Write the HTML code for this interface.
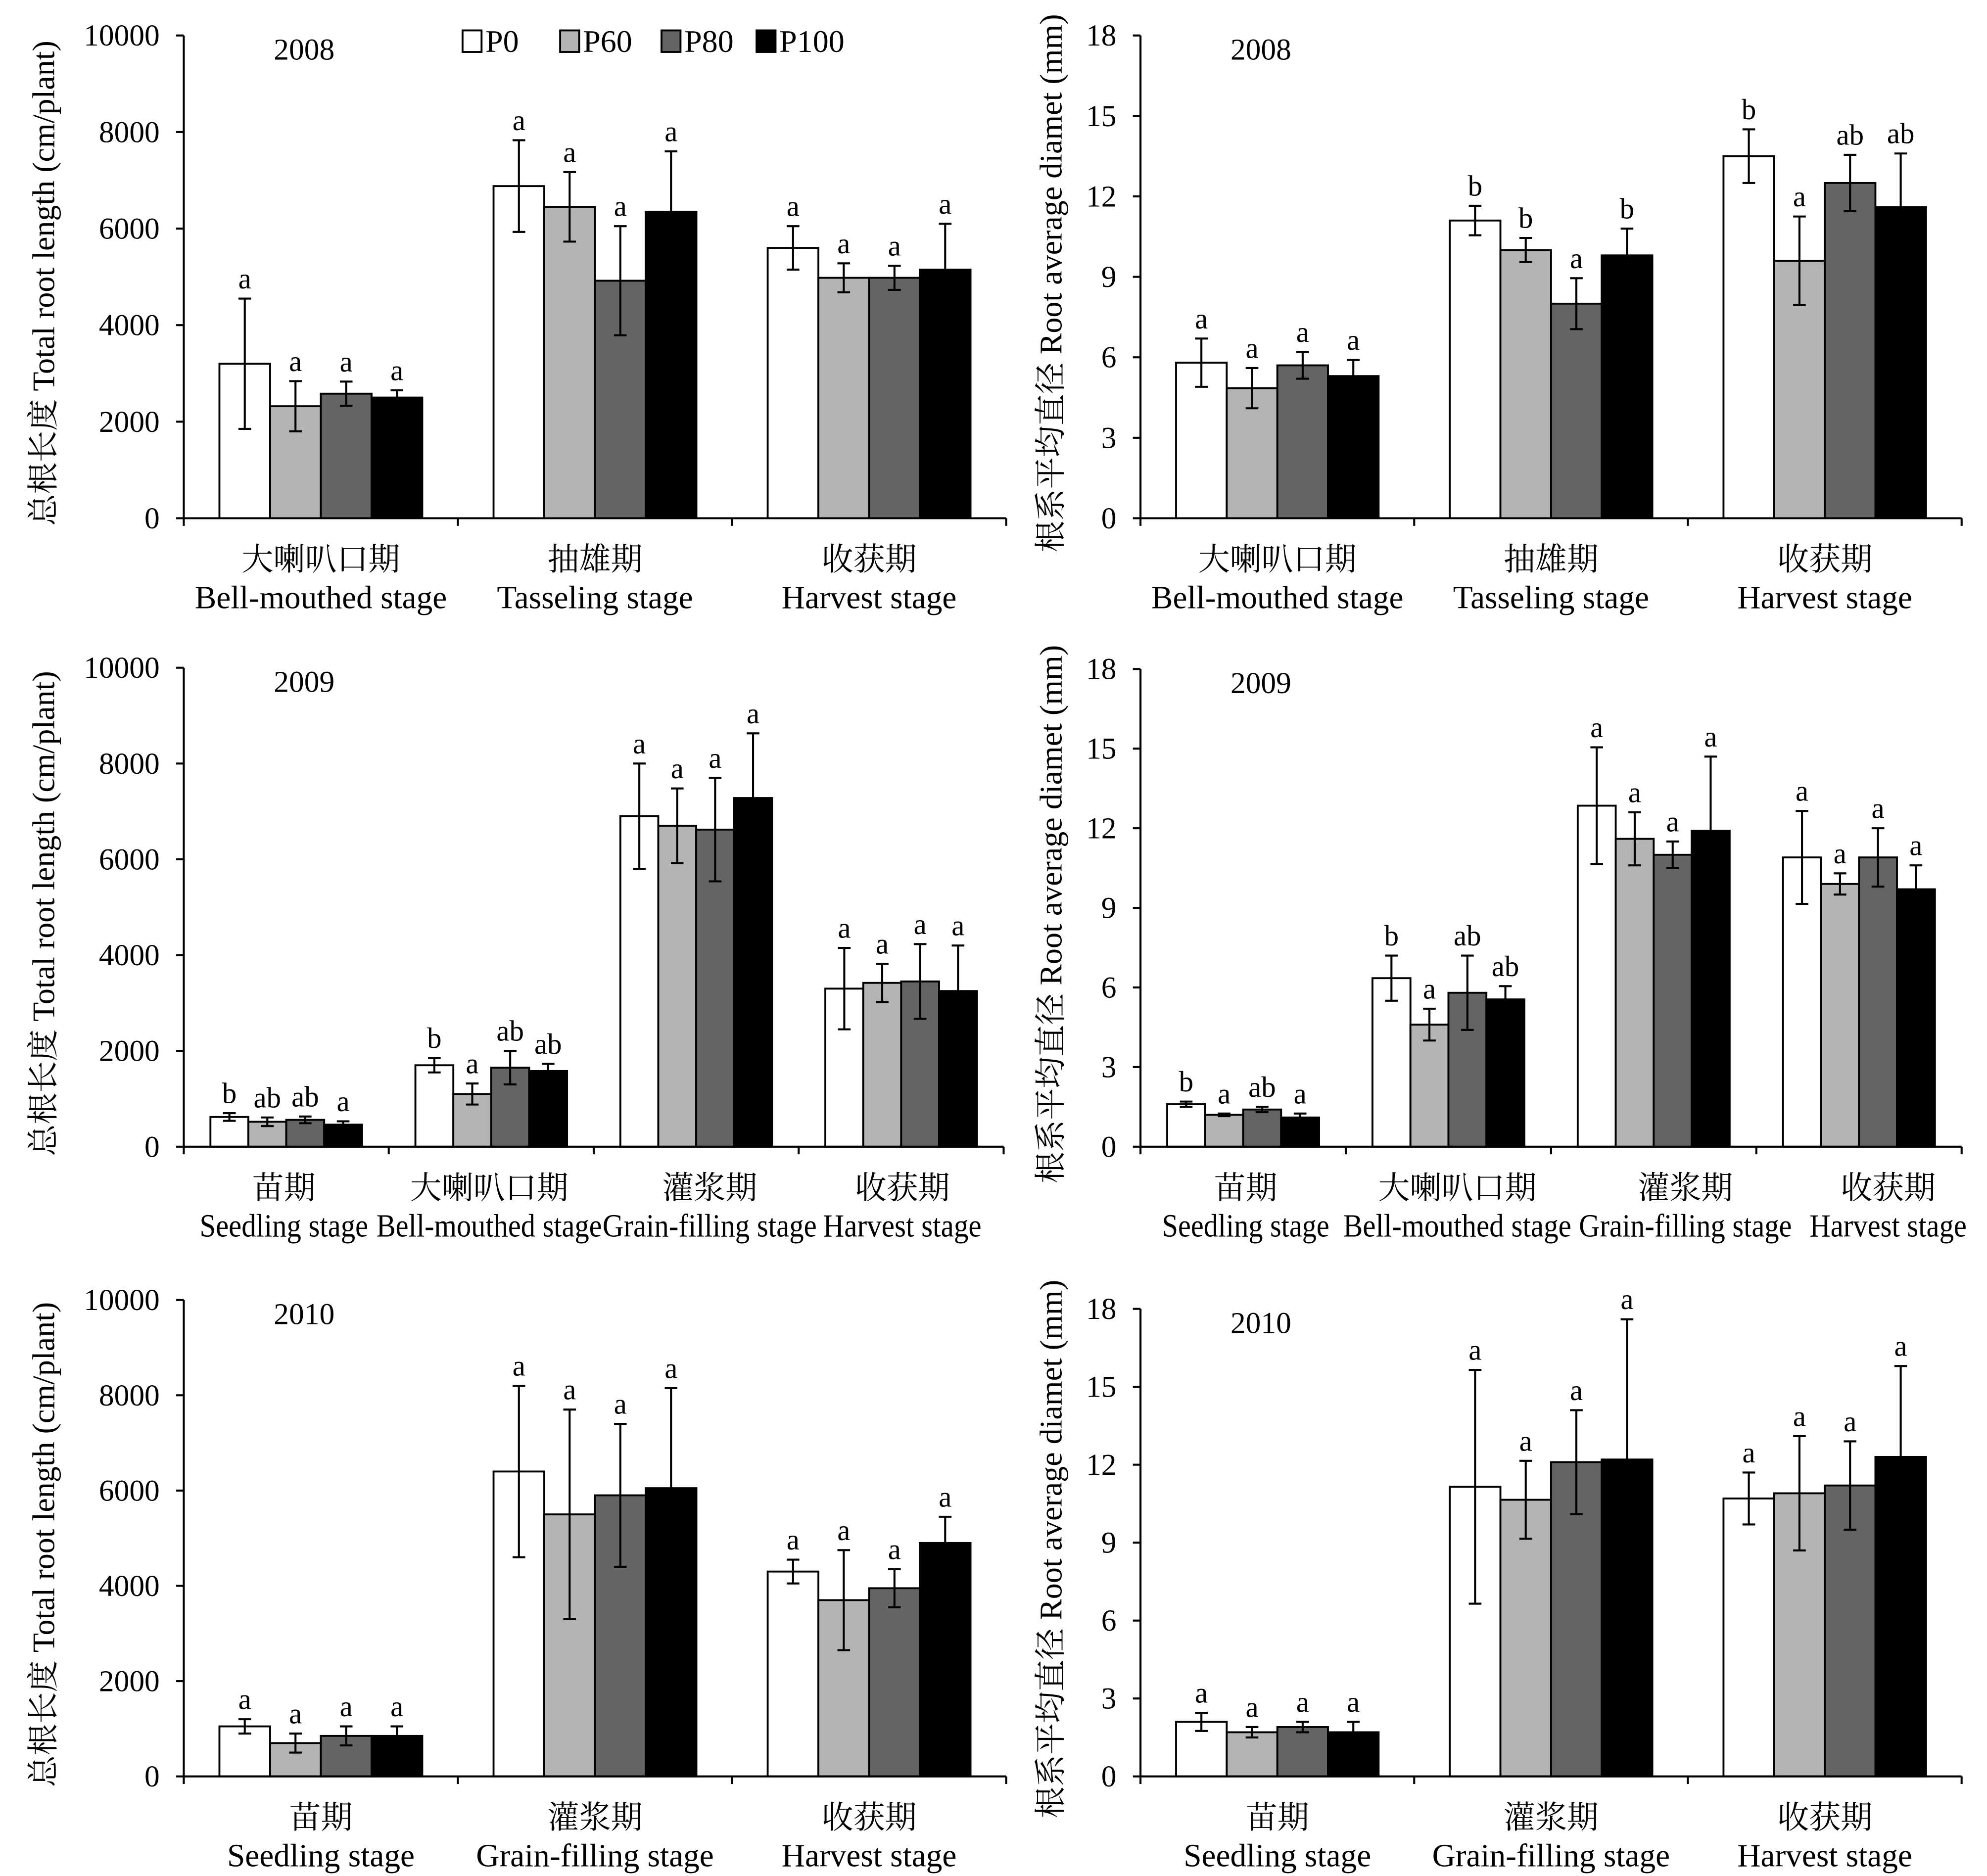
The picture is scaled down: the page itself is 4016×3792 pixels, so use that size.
<!DOCTYPE html>
<html><head><meta charset="utf-8">
<style>
html,body{margin:0;padding:0;background:#fff;}
svg{display:block;}
text{font-family:"Liberation Serif","Noto Serif CJK SC",serif;fill:#000;}
</style></head>
<body>
<svg id="chart" xmlns="http://www.w3.org/2000/svg" width="4016" height="3792" viewBox="0 0 1568 1480.6"></svg>
<script>
// ---- data ----
const legendNames = ["P0","P60","P80","P100"];
const trlTicks = [0,2000,4000,6000,8000,10000];
const diamTicks = [0,3,6,9,12,15,18];

const cats2008 = [["大喇叭口期","Bell-mouthed stage"],["抽雄期","Tasseling stage"],["收获期","Harvest stage"]];
const cats2009 = [["苗期","Seedling stage"],["大喇叭口期","Bell-mouthed stage"],["灌浆期","Grain-filling stage"],["收获期","Harvest stage"]];
const cats2010 = [["苗期","Seedling stage"],["灌浆期","Grain-filling stage"],["收获期","Harvest stage"]];

const trl2008Vals = [[3200,2320,2580,2500],[6880,6450,4920,6350],[5600,4980,4980,5150]];
const trl2008Errs = [[1350,520,250,150],[950,720,1130,1250],[450,300,250,950]];
const trl2008Lets = [["a","a","a","a"],["a","a","a","a"],["a","a","a","a"]];

const dia2008Vals = [[5.8,4.85,5.7,5.3],[11.1,10.0,8.0,9.8],[13.5,9.6,12.5,11.6]];
const dia2008Errs = [[0.9,0.75,0.5,0.6],[0.55,0.45,0.95,1.0],[1.0,1.65,1.05,2.0]];
const dia2008Lets = [["a","a","a","a"],["b","b","a","b"],["b","a","ab","ab"]];

const trl2009Vals = [[620,520,560,460],[1700,1100,1650,1580],[6900,6700,6620,7280],[3300,3420,3450,3250]];
const trl2009Errs = [[80,90,70,70],[150,220,350,150],[1100,780,1080,1350],[850,400,780,950]];
const trl2009Lets = [["b","ab","ab","a"],["b","a","ab","ab"],["a","a","a","a"],["a","a","a","a"]];

const dia2009Vals = [[1.6,1.2,1.4,1.1],[6.35,4.6,5.8,5.55],[12.85,11.6,11.0,11.9],[10.9,9.9,10.9,9.7]];
const dia2009Errs = [[0.1,0.05,0.1,0.15],[0.85,0.6,1.4,0.5],[2.2,1.0,0.5,2.8],[1.75,0.4,1.1,0.9]];
const dia2009Lets = [["b","a","ab","a"],["b","a","ab","ab"],["a","a","a","a"],["a","a","a","a"]];

const trl2010Vals = [[1050,700,850,850],[6400,5500,5900,6050],[4300,3700,3950,4900]];
const trl2010Errs = [[150,200,200,200],[1800,2200,1500,2100],[250,1050,400,550]];
const trl2010Lets = [["a","a","a","a"],["a","a","a","a"],["a","a","a","a"]];

const dia2010Vals = [[2.1,1.7,1.9,1.7],[11.15,10.65,12.1,12.2],[10.7,10.9,11.2,12.3]];
const dia2010Errs = [[0.35,0.2,0.2,0.4],[4.5,1.5,2.0,5.4],[1.0,2.2,1.7,3.5]];
const dia2010Lets = [["a","a","a","a"],["a","a","a","a"],["a","a","a","a"]];

const fills = ["#ffffff","#b4b4b4","#646464","#000000"];
const NS = "http://www.w3.org/2000/svg";
const svg = document.getElementById("chart");

function mk(tag, attrs, parent, txt){
  const e = document.createElementNS(NS, tag);
  for (const k in attrs) e.setAttribute(k, attrs[k]);
  if (txt !== undefined) e.textContent = txt;
  (parent||svg).appendChild(e);
  return e;
}

// label layout for crowded 2009 panels (layout only)
const lab2009L = {cx:[224,386,560,712], w:[133,178,169,125]};
const lab2009R = {cx:[983,1150,1330,1490], w:[132,180,168,124]};

const panels = [
  {id:"trl-2008", year:"2008", x0:145, x1:794, yTop:28, yBot:409, max:10000, ticks:trlTicks, cats:cats2008, vals:trl2008Vals, errs:trl2008Errs, lets:trl2008Lets, title:"总根长度 Total root length (cm/plant)", tx:37, catY:450},
  {id:"diam-2008", year:"2008", x0:900, x1:1548, yTop:28, yBot:409, max:18, ticks:diamTicks, cats:cats2008, vals:dia2008Vals, errs:dia2008Errs, lets:dia2008Lets, title:"根系平均直径 Root average diamet (mm)", tx:832, catY:450},
  {id:"trl-2009", year:"2009", x0:145, x1:792, yTop:527, yBot:905, max:10000, ticks:trlTicks, cats:cats2009, vals:trl2009Vals, errs:trl2009Errs, lets:trl2009Lets, title:"总根长度 Total root length (cm/plant)", tx:37, catY:946, lab:lab2009L},
  {id:"diam-2009", year:"2009", x0:900, x1:1548, yTop:528, yBot:905, max:18, ticks:diamTicks, cats:cats2009, vals:dia2009Vals, errs:dia2009Errs, lets:dia2009Lets, title:"根系平均直径 Root average diamet (mm)", tx:832, catY:946, lab:lab2009R},
  {id:"trl-2010", year:"2010", x0:145, x1:794, yTop:1026, yBot:1402, max:10000, ticks:trlTicks, cats:cats2010, vals:trl2010Vals, errs:trl2010Errs, lets:trl2010Lets, title:"总根长度 Total root length (cm/plant)", tx:37, catY:1443},
  {id:"diam-2010", year:"2010", x0:900, x1:1548, yTop:1033, yBot:1402, max:18, ticks:diamTicks, cats:cats2010, vals:dia2010Vals, errs:dia2010Errs, lets:dia2010Lets, title:"根系平均直径 Root average diamet (mm)", tx:832, catY:1443}
];

panels.forEach(p => {
  const g = mk("g", {});
  
  
  const y = v => p.yBot - (v / p.max) * (p.yBot - p.yTop);
  const nG = p.cats.length;
  const gw = (p.x1 - p.x0) / nG;
  const bw = gw * 0.74 / 4;

  p.vals.forEach((grp, gi) => {
    const start = p.x0 + gi * gw + (gw - 4 * bw) / 2;
    grp.forEach((v, si) => {
      const bx = start + si * bw;
      const r = mk("rect", {x:bx, y:y(v), width:bw, height:p.yBot - y(v), fill:fills[si], stroke:"#000", "stroke-width":1.5}, g);
      
      
      const cx = bx + bw / 2, e = p.errs[gi][si];
      const eb = mk("path", {d:`M${cx},${y(v-e)}V${y(v+e)}M${cx-5},${y(v-e)}H${cx+5}M${cx-5},${y(v+e)}H${cx+5}`, stroke:"#000", "stroke-width":1.6, fill:"none"}, g);
      
      
      const lt = mk("text", {x:cx, y:y(v+e) - 8, "text-anchor":"middle", "font-size":23}, g, p.lets[gi][si]);
      
      
    });
    const c = p.lab ? p.lab.cx[gi] : p.x0 + gi * gw + gw / 2;
    const c1 = mk("text", {x:c, y:p.catY, "text-anchor":"middle", "font-size":25}, g, p.cats[gi][0]);
    
    
    const a2 = {x:c, y:p.catY + 30, "text-anchor":"middle", "font-size":25.5};
    if (p.lab) { a2.textLength = p.lab.w[gi]; a2.lengthAdjust = "spacingAndGlyphs"; }
    const c2 = mk("text", a2, g, p.cats[gi][1]);
    
    
  });

  const ax = mk("path", {d:`M${p.x0},${p.yTop}V${p.yBot}H${p.x1}`, stroke:"#000", "stroke-width":1.6, fill:"none"}, g);
  
  
  for (let i = 0; i <= nG; i++) {
    const tx = p.x0 + i * gw;
    mk("line", {x1:tx, x2:tx, y1:p.yBot, y2:p.yBot + 6, stroke:"#000", "stroke-width":1.6}, g);
  }
  p.ticks.forEach(t => {
    mk("line", {x1:p.x0 - 6, x2:p.x0, y1:y(t), y2:y(t), stroke:"#000", "stroke-width":1.6}, g);
    const tl = mk("text", {x:p.x0 - 19, y:y(t) + 8, "text-anchor":"end", "font-size":24}, g, t);
    
    
  });
  const yc = (p.yTop + p.yBot) / 2 + 5;
  const yt = mk("text", {x:p.tx, y:yc, "text-anchor":"middle", "font-size":25, transform:`rotate(-90 ${p.tx} ${yc})`, "dominant-baseline":"middle"}, g, p.title);
  
  
  const yr = mk("text", {x:p.x0 + 95, y:p.yTop + 19, "text-anchor":"middle", "font-size":24}, g, p.year);
  
  
});

const lg = mk("g", {});


const legX = [365, 442, 522, 597];
legendNames.forEach((n, i) => {
  const r = mk("rect", {x:legX[i], y:24, width:15, height:17, fill:fills[i], stroke:"#000", "stroke-width":1.5}, lg);
  
  
  const t = mk("text", {x:legX[i] + 18, y:41, "font-size":25}, lg, n);
  
  
});
</script>
</body></html>
